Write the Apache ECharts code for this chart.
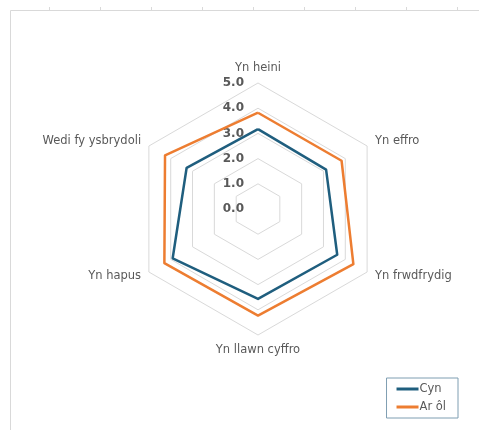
<!DOCTYPE html>
<html>
<head>
<meta charset="utf-8">
<script src="https://cdn.jsdelivr.net/npm/echarts@6/dist/echarts.min.js"></script>
<style>html,body{margin:0;padding:0;background:#fff}#c{width:479px;height:430px}</style>
</head>
<body>
<div id="c"></div>
<script>
// Categories in clockwise order starting at top
const categories = ['Yn heini', 'Yn effro', 'Yn frwdfrydig', 'Yn llawn cyffro', 'Yn hapus', 'Wedi fy ysbrydoli'];
const seriesNames = ['Cyn', 'Ar ôl'];
const cynValues = [3.17, 3.12, 3.63, 3.57, 3.91, 3.27];
const arOlValues = [3.82, 3.83, 4.37, 4.23, 4.29, 4.26];
const tickMin = 0, tickMax = 5, tickStep = 1;

const FONT = 'DejaVu Sans';
// ECharts radar runs counterclockwise: reorder to keep clockwise layout
const order = [0, 5, 4, 3, 2, 1];
const indicator = order.map((i, k) => {
  const ind = { name: categories[i], min: tickMin, max: tickMax };
  if (k === 0) ind.axisLabel = { show: true };
  return ind;
});
const reorder = arr => order.map(i => arr[i]);

const chart = echarts.init(document.getElementById('c'));
chart.setOption({
  animation: false,
  backgroundColor: '#fff',
  graphic: [
    { type: 'line', shape: { x1: 10.5, y1: 10.5, x2: 479, y2: 10.5 }, style: { stroke: '#d9d9d9', lineWidth: 1 } },
    { type: 'line', shape: { x1: 10.5, y1: 10.5, x2: 10.5, y2: 430 }, style: { stroke: '#d9d9d9', lineWidth: 1 } },
    ...[49, 100, 151, 202, 253, 304, 355, 406, 457].map(x => ({ type: 'line', shape: { x1: x + 0.5, y1: 7, x2: x + 0.5, y2: 10 }, style: { stroke: '#d9d9d9', lineWidth: 1 } }))
  ],
  legend: {
    orient: 'vertical',
    right: 21, bottom: 12,
    data: seriesNames,
    itemWidth: 22, itemHeight: 3,
    itemGap: 6,
    padding: [5, 12, 5, 10],
    borderColor: '#7f9eb2', borderWidth: 1,
    icon: 'rect',
    textStyle: { color: '#595959', fontSize: 11.5, fontFamily: FONT, padding: [0, 0, 0, -4] }
  },
  radar: {
    center: [258, 209],
    radius: 126,
    splitNumber: 5,
    startAngle: 90,
    shape: 'polygon',
    indicator: indicator,
    axisName: { color: '#595959', fontSize: 11.5, fontFamily: FONT },
    nameGap: 9,
    splitLine: { lineStyle: { color: '#d9d9d9', width: 1 } },
    splitArea: { show: false },
    axisLine: { show: false },
    axisTick: { show: false },
    axisLabel: {
      show: false,
      color: '#595959', fontSize: 12, fontWeight: 'bold', fontFamily: FONT,
      margin: 14,
      formatter: v => Number(v).toFixed(1)
    }
  },
  series: [{
    type: 'radar',
    symbol: 'none',
    data: [
      { name: seriesNames[0], value: reorder(cynValues), lineStyle: { color: '#1f5e7e', width: 2.5 }, itemStyle: { color: '#1f5e7e' } },
      { name: seriesNames[1], value: reorder(arOlValues), lineStyle: { color: '#ed7d31', width: 2.5 }, itemStyle: { color: '#ed7d31' } }
    ]
  }]
});
</script>
</body>
</html>
